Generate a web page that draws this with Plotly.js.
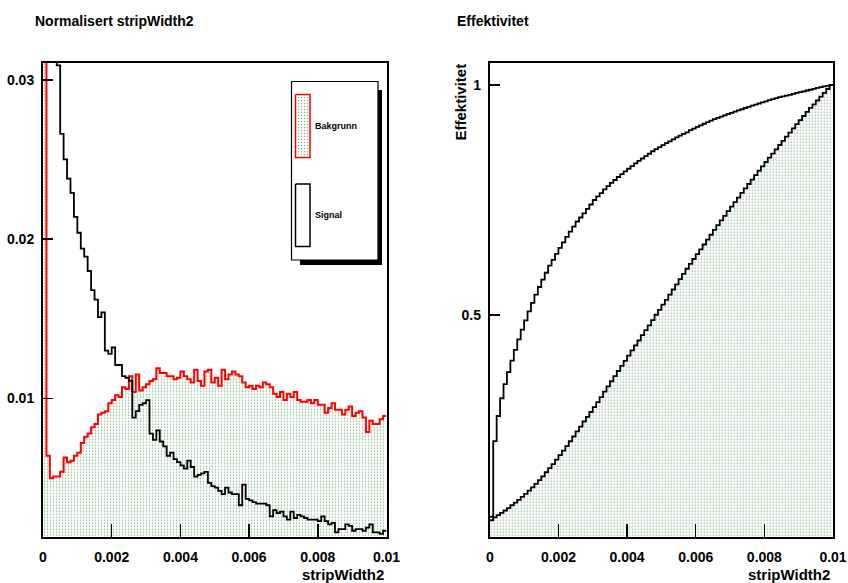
<!DOCTYPE html>
<html>
<head>
<meta charset="utf-8">
<script src="https://cdn.plot.ly/plotly-3.0.1.min.js"></script>
<style>html,body{margin:0;padding:0;background:#fff;}</style>
</head>
<body>
<div id="chart" style="width:848px;height:583px;"></div>
<script>
// ---- data ----
const binLow = 0, binHigh = 0.01, nBins = 100;

const bakgrunn = [
 0.055, 0.0064, 0.0050, 0.0051, 0.0051, 0.0054, 0.0063, 0.0060, 0.0061, 0.0064,
 0.0066, 0.0072, 0.0076, 0.0078, 0.0082, 0.0084, 0.0090, 0.0091, 0.0092, 0.0097,
 0.0099, 0.0102, 0.0101, 0.0107, 0.0106, 0.0114, 0.0104, 0.0115, 0.0105, 0.0107,
 0.0109, 0.0111, 0.0112, 0.0119, 0.0116, 0.0116, 0.0114, 0.0114, 0.0112, 0.0113,
 0.0117, 0.0114, 0.0112, 0.0110, 0.0118, 0.0111, 0.0108, 0.0117, 0.0118, 0.0110,
 0.0113, 0.0108, 0.0118, 0.0112, 0.0115, 0.0117, 0.0115, 0.0114, 0.0110, 0.0107,
 0.0108, 0.0106, 0.0108, 0.0107, 0.0110, 0.0109, 0.0107, 0.0103, 0.0101, 0.0104,
 0.0099, 0.0103, 0.0101, 0.0104, 0.0099, 0.0098, 0.0098, 0.0099, 0.0097, 0.0099,
 0.0096, 0.0096, 0.0091, 0.0094, 0.0097, 0.0093, 0.0093, 0.0090, 0.0093, 0.0095,
 0.0089, 0.0091, 0.0092, 0.0088, 0.0079, 0.0086, 0.0084, 0.0084, 0.0087, 0.0089
];

const signal = [
 0.062, 0.166, 0.055, 0.039, 0.0309, 0.0266, 0.0250, 0.0238, 0.0229, 0.0214,
 0.0204, 0.0194, 0.0189, 0.0180, 0.0168, 0.0162, 0.0151, 0.0154, 0.0130, 0.0128,
 0.0132, 0.0121, 0.0121, 0.0114, 0.0113, 0.0111, 0.0088, 0.0092, 0.0096, 0.0097,
 0.0099, 0.0078, 0.0074, 0.0080, 0.0073, 0.0070, 0.0064, 0.0066, 0.0062, 0.0060,
 0.0058, 0.0056, 0.0061, 0.0057, 0.0051, 0.0052, 0.0053, 0.0054, 0.0047, 0.0045,
 0.0044, 0.0042, 0.0040, 0.0044, 0.0041, 0.0040, 0.0040, 0.0033, 0.0046, 0.0037,
 0.0036, 0.0035, 0.0034, 0.0034, 0.0034, 0.0033, 0.0026, 0.0030, 0.0028, 0.0029,
 0.0026, 0.0024, 0.0029, 0.0025, 0.0027, 0.0026, 0.0025, 0.0024, 0.0024, 0.0024,
 0.0023, 0.0026, 0.0023, 0.0021, 0.0022, 0.0016, 0.0018, 0.0018, 0.0021, 0.0020,
 0.0017, 0.0018, 0.0018, 0.0017, 0.0019, 0.0021, 0.0016, 0.0016, 0.0015, 0.0017
];

const xTickVals = [0, 0.002, 0.004, 0.006, 0.008, 0.01];
const xTickText = ['0', '0.002', '0.004', '0.006', '0.008', '0.01'];
const yTickValsL = [0.01, 0.02, 0.03];
const yTickTextL = ['0.01', '0.02', '0.03'];
const yTickValsR = [0.5, 1];
const yTickTextR = ['0.5', '1'];

const legendLabels = ['Bakgrunn', 'Signal'];
const titleLeft = 'Normalisert stripWidth2';
const titleRight = 'Effektivitet';
const xTitle = 'stripWidth2';
const yTitleRight = 'Effektivitet';

// ---- helpers ----
const binW = (binHigh - binLow) / nBins;
const edges = Array.from({length: nBins + 1}, (_, i) => binLow + i * binW);
function stepY(vals) { return vals.concat([vals[vals.length - 1]]); }
function cumulative(vals) {
  const tot = vals.reduce((a, b) => a + b, 0);
  let s = 0;
  return vals.map(v => { s += v; return s / tot; });
}
const effB = cumulative(bakgrunn);
const effS = cumulative(signal);

const W = 848, H = 583;
const px = x => x / W;
const py = y => 1 - y / H;

const FONT = 'Liberation Sans, Arial, Helvetica, sans-serif';
const pattern = {shape: '.', fgcolor: '#7cb87c', bgcolor: 'white', size: 3, solidity: 0.18};

const traces = [
  {x: edges, y: stepY(bakgrunn), xaxis: 'x', yaxis: 'y', type: 'scatter', mode: 'lines',
   line: {shape: 'hv', color: '#ff0000', width: 2}, fill: 'tozeroy', fillcolor: 'white',
   fillpattern: pattern, hoverinfo: 'skip'},
  {x: edges, y: stepY(signal), xaxis: 'x', yaxis: 'y', type: 'scatter', mode: 'lines',
   line: {shape: 'hv', color: '#000000', width: 1.8}, hoverinfo: 'skip'},
  {x: edges, y: stepY(effB), xaxis: 'x2', yaxis: 'y2', type: 'scatter', mode: 'lines',
   line: {shape: 'hv', color: '#000000', width: 1.8}, fill: 'tozeroy', fillcolor: 'white',
   fillpattern: pattern, hoverinfo: 'skip'},
  {x: edges, y: stepY(effS), xaxis: 'x2', yaxis: 'y2', type: 'scatter', mode: 'lines',
   line: {shape: 'hv', color: '#000000', width: 1.8}, hoverinfo: 'skip'},
  // legend (overlay in pixel coordinates)
  {x: [300, 382, 382, 300, 300], y: [90, 90, 265, 265, 90], xaxis: 'x3', yaxis: 'y3',
   type: 'scatter', mode: 'lines', fill: 'toself', fillcolor: '#000', line: {color: '#000', width: 0}, hoverinfo: 'skip'},
  {x: [291.5, 378, 378, 291.5, 291.5], y: [81.5, 81.5, 260, 260, 81.5], xaxis: 'x3', yaxis: 'y3',
   type: 'scatter', mode: 'lines', fill: 'toself', fillcolor: '#fff', line: {color: '#000', width: 1.2}, hoverinfo: 'skip'},
  {x: [295.5, 310, 310, 295.5, 295.5], y: [94.5, 94.5, 157.5, 157.5, 94.5], xaxis: 'x3', yaxis: 'y3',
   type: 'scatter', mode: 'lines', fill: 'toself', fillcolor: '#fff', fillpattern: pattern,
   line: {color: '#ff0000', width: 1.5}, hoverinfo: 'skip'},
  {x: [295.5, 310, 310, 295.5, 295.5], y: [184, 184, 246.5, 246.5, 184], xaxis: 'x3', yaxis: 'y3',
   type: 'scatter', mode: 'lines', fill: 'toself', fillcolor: '#fff',
   line: {color: '#000', width: 1.5}, hoverinfo: 'skip'}
];

const axisCommon = {
  showline: true, linecolor: '#000', linewidth: 2, mirror: true,
  ticks: 'inside', tickcolor: '#000', tickwidth: 1.5,
  showgrid: false, zeroline: false, fixedrange: true,
  tickfont: {family: FONT, size: 14, weight: 700, color: '#000'}
};

const layout = {
  width: W, height: H,
  margin: {l: 0, r: 0, t: 0, b: 0, pad: 0},
  paper_bgcolor: '#fff', plot_bgcolor: 'rgba(0,0,0,0)',
  showlegend: false,
  xaxis: Object.assign({}, axisCommon, {domain: [px(43), px(386.5)], range: [binLow, binHigh],
    tickvals: xTickVals, ticktext: xTickText, ticklen: 13, anchor: 'y', ticklabelstandoff: 6}),
  yaxis: Object.assign({}, axisCommon, {domain: [py(536.8), py(62.7)], range: [0.00132, 0.03107],
    tickvals: yTickValsL, ticktext: yTickTextL, ticklen: 10, anchor: 'x', ticklabelstandoff: 4}),
  xaxis2: Object.assign({}, axisCommon, {domain: [px(489.8), px(833)], range: [binLow, binHigh],
    tickvals: xTickVals, ticktext: xTickText, ticklen: 13, anchor: 'y2', ticklabelstandoff: 6}),
  yaxis2: Object.assign({}, axisCommon, {domain: [py(537.3), py(62.7)], range: [0.0167, 1.0485],
    tickvals: yTickValsR, ticktext: yTickTextR, ticklen: 10, anchor: 'x2', ticklabelstandoff: 4}),
  xaxis3: {domain: [0, 1], range: [0, W], visible: false, fixedrange: true, anchor: 'y3'},
  yaxis3: {domain: [0, 1], range: [H, 0], visible: false, fixedrange: true, anchor: 'x3'},
  annotations: [
    {text: titleLeft, x: px(33), y: py(21), xref: 'paper', yref: 'paper', xanchor: 'left', yanchor: 'middle',
     showarrow: false, font: {family: FONT, size: 14, weight: 700, color: '#000'}},
    {text: titleRight, x: px(455), y: py(21), xref: 'paper', yref: 'paper', xanchor: 'left', yanchor: 'middle',
     showarrow: false, font: {family: FONT, size: 14, weight: 700, color: '#000'}},
    {text: xTitle, x: px(386), y: py(574), xref: 'paper', yref: 'paper', xanchor: 'right', yanchor: 'middle',
     showarrow: false, font: {family: FONT, size: 15, weight: 700, color: '#000'}},
    {text: xTitle, x: px(832), y: py(574), xref: 'paper', yref: 'paper', xanchor: 'right', yanchor: 'middle',
     showarrow: false, font: {family: FONT, size: 15, weight: 700, color: '#000'}},
    {text: yTitleRight, x: px(460), y: py(62), xref: 'paper', yref: 'paper', xanchor: 'center', yanchor: 'top',
     textangle: -90, showarrow: false, font: {family: FONT, size: 15, weight: 700, color: '#000'}},
    {text: legendLabels[0], x: px(313), y: py(126), xref: 'paper', yref: 'paper', xanchor: 'left', yanchor: 'middle',
     showarrow: false, font: {family: FONT, size: 9, weight: 700, color: '#000'}},
    {text: legendLabels[1], x: px(313), y: py(215), xref: 'paper', yref: 'paper', xanchor: 'left', yanchor: 'middle',
     showarrow: false, font: {family: FONT, size: 9, weight: 700, color: '#000'}}
  ]
};

Plotly.newPlot('chart', traces, layout, {staticPlot: true, displayModeBar: false});
</script>
</body>
</html>
